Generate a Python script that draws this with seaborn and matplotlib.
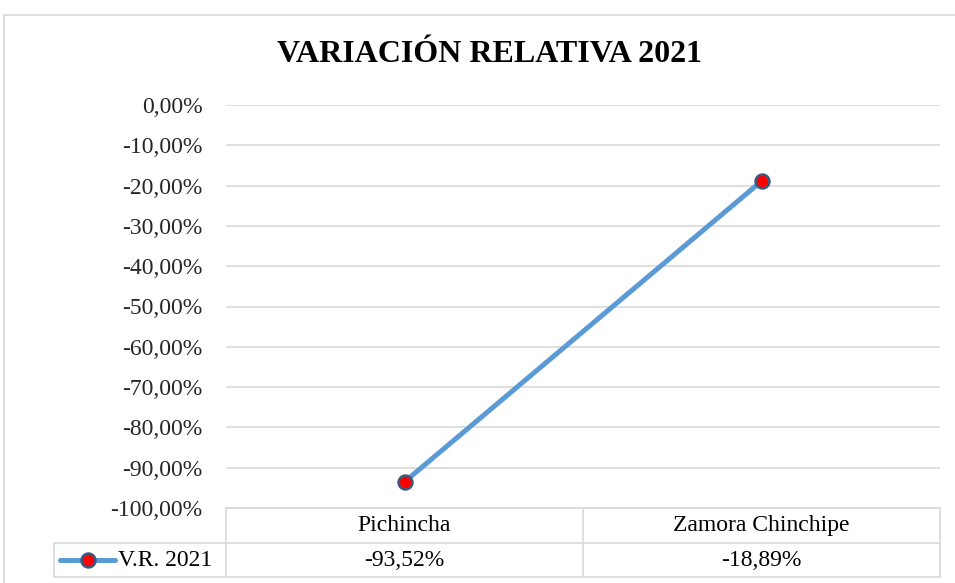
import matplotlib
matplotlib.use("Agg")
import matplotlib.pyplot as plt
import seaborn as sns
import pandas as pd
from matplotlib.lines import Line2D

categories = ["Pichincha", "Zamora Chinchipe"]
values = [-93.52, -18.89]
series_name = "V.R. 2021"
title = "VARIACIÓN RELATIVA 2021"
yticks = [0, -10, -20, -30, -40, -50, -60, -70, -80, -90, -100]


def pct(v):
    return f"{v:.2f}".replace(".", ",") + "%"


sns.set_theme(style="white")
plt.rcParams["font.family"] = ["Liberation Serif", "DejaVu Serif"]

line_color = "#5b9bd5"
grid_color = "#d9d9d9"
fs = 17
W, H = 955, 583

df = pd.DataFrame({"x": range(len(categories)), "y": values})

fig = plt.figure(figsize=(W / 100, H / 100), dpi=100)
ax = fig.add_axes([226 / W, (H - 508) / H, (940 - 226) / W, (508 - 105) / H])

sns.lineplot(data=df, x="x", y="y", ax=ax, color=line_color, linewidth=3.6,
             marker="o", markersize=10, markerfacecolor="#ff0000",
             markeredgecolor="#3d5a80", markeredgewidth=1.8)

ax.set_xlim(-0.5, len(categories) - 0.5)
ax.set_ylim(-100, 0)
ax.set_yticks(yticks)
ax.set_yticklabels([pct(t) for t in yticks], fontsize=fs)
ax.set_xticks([])
ax.set_xlabel("")
ax.set_ylabel("")
ax.tick_params(axis="y", length=0, pad=17)
for s in ax.spines.values():
    s.set_visible(False)
for t in yticks:
    ax.axhline(t, color=grid_color, linewidth=1.2, zorder=0)

# data table below the plot
n = len(categories)
r1 = -35 / 403
r2 = -69 / 403
leg_left = (54 - 226) / 714
lkw = dict(color=grid_color, linewidth=1.2, transform=ax.transAxes, clip_on=False)
ax.plot([0, 1], [0, 0], **lkw)
ax.plot([leg_left, 1], [r1, r1], **lkw)
ax.plot([leg_left, 1], [r2, r2], **lkw)
ax.plot([leg_left, leg_left], [r1, r2], **lkw)
for i in range(n + 1):
    ax.plot([i / n, i / n], [0, r2], **lkw)
for i, (c, v) in enumerate(zip(categories, values)):
    xc = (i + 0.5) / n
    ax.text(xc, r1 / 2, c, transform=ax.transAxes, ha="center", va="center",
            fontsize=fs, color="black")
    ax.text(xc, (r1 + r2) / 2, pct(v), transform=ax.transAxes, ha="center",
            va="center", fontsize=fs, color="black")

ym = (r1 + r2) / 2
ax.add_line(Line2D([(60 - 226) / 714, (115 - 226) / 714], [ym, ym],
                   color=line_color, linewidth=3.6, transform=ax.transAxes,
                   clip_on=False))
ax.add_line(Line2D([(88 - 226) / 714], [ym], marker="o", markersize=10,
                   markerfacecolor="#ff0000", markeredgecolor="#3d5a80",
                   markeredgewidth=1.8, transform=ax.transAxes, clip_on=False))
ax.text((118 - 226) / 714, ym, series_name, transform=ax.transAxes,
        ha="left", va="center", fontsize=fs, color="black")

fig.text((275 + 703) / 2 / W, 1 - 55 / H, title, ha="center", va="center",
         fontsize=23, fontweight="bold", color="black")

# chart frame (cropped at right and bottom)
fig.add_artist(Line2D([4 / W, 4 / W], [0, 1 - 15 / H], color=grid_color,
                      linewidth=1.2, transform=fig.transFigure))
fig.add_artist(Line2D([4 / W, 1], [1 - 15 / H, 1 - 15 / H], color=grid_color,
                      linewidth=1.2, transform=fig.transFigure))

fig.savefig("out.png", dpi=100)
